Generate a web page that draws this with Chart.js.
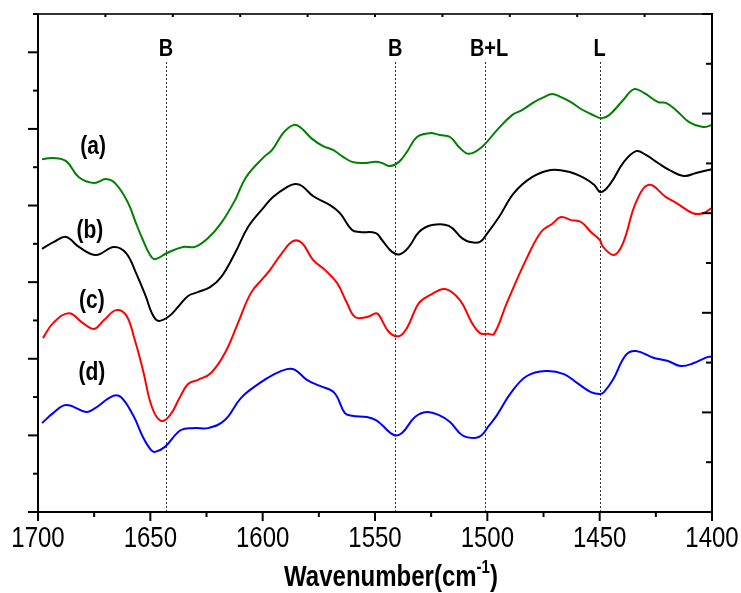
<!DOCTYPE html>
<html>
<head>
<meta charset="utf-8">
<script src="https://cdn.jsdelivr.net/npm/chart.js@4.4.1/dist/chart.umd.min.js"></script>
<style>
  html, body { margin: 0; padding: 0; background: #fff; }
  canvas { display: block; }
</style>
</head>
<body>
<canvas id="ftirChart" width="741" height="593"></canvas>
<script>
// spectrum (a) - green
const wavenumberA = [1698.2,1693.3,1687.5,1681.8,1675.1,1669.7,1665.3,1659.9,1656.4,1653.3,1650.1,1647.9,1642.6,1635.5,1630.1,1624.3,1618.5,1612.3,1607.4,1599.4,1595.8,1590.9,1586.5,1583.4,1578.0,1573.1,1568.7,1564.2,1560.2,1555.3,1549.6,1546.9,1543.3,1539.3,1535.8,1531.3,1525.5,1521.1,1516.6,1512.2,1508.2,1502.4,1495.7,1489.0,1484.6,1479.2,1474.8,1471.2,1467.2,1462.8,1458.3,1453.9,1449.4,1445.8,1439.6,1434.7,1430.3,1424.0,1420.5,1416.0,1410.2,1404.0,1400.0];
const absorbanceA = [9.21,9.24,9.16,8.74,8.59,8.69,8.56,8.07,7.54,7.10,6.71,6.60,6.76,6.92,6.92,7.15,7.54,8.14,8.74,9.27,9.45,9.89,10.10,10.05,9.74,9.55,9.45,9.27,9.14,9.11,9.14,9.11,9.03,9.14,9.40,9.79,9.89,9.84,9.79,9.50,9.35,9.53,9.97,10.36,10.49,10.70,10.83,10.91,10.83,10.70,10.52,10.39,10.28,10.36,10.75,11.04,10.94,10.70,10.68,10.49,10.18,10.05,10.10];

// spectrum (b) - black
const wavenumberB = [1698.2,1692.9,1687.5,1681.8,1674.2,1666.2,1660.8,1656.4,1651.9,1649.3,1646.6,1642.1,1637.7,1633.2,1628.8,1623.4,1618.5,1612.3,1606.5,1599.4,1595.4,1589.2,1585.6,1582.5,1577.6,1570.0,1565.6,1560.2,1556.7,1549.6,1546.9,1542.4,1538.9,1534.9,1530.4,1524.6,1517.1,1511.3,1507.7,1503.3,1500.2,1494.8,1488.1,1480.1,1471.7,1463.7,1457.0,1452.5,1449.4,1445.0,1439.6,1433.8,1429.4,1424.0,1419.1,1412.5,1407.1,1400.0];
const absorbanceB = [6.87,7.05,7.18,6.92,6.71,6.92,6.76,6.24,5.61,5.19,4.99,5.09,5.35,5.64,5.74,5.87,6.13,6.76,7.44,7.96,8.22,8.48,8.56,8.51,8.25,8.01,7.80,7.36,7.31,7.28,7.10,6.79,6.73,6.92,7.31,7.49,7.47,7.15,7.05,7.05,7.26,7.70,8.33,8.74,8.93,8.88,8.72,8.54,8.35,8.59,9.11,9.42,9.32,9.11,8.93,8.77,8.85,8.95];

// spectrum (c) - red
const wavenumberC = [1697.8,1693.3,1686.2,1680.0,1675.1,1670.6,1665.3,1660.8,1657.3,1653.3,1649.3,1645.3,1641.2,1636.8,1633.2,1628.8,1623.0,1616.8,1611.0,1605.2,1599.4,1596.7,1591.4,1586.5,1582.5,1577.6,1572.3,1566.9,1562.5,1558.9,1553.6,1549.6,1548.2,1543.8,1539.3,1535.8,1530.4,1525.5,1518.8,1512.2,1506.8,1503.3,1499.7,1497.0,1491.3,1482.8,1476.1,1471.2,1467.2,1462.8,1458.3,1453.9,1449.9,1448.5,1443.6,1439.6,1433.8,1428.0,1420.5,1416.0,1408.5,1404.0,1400.0];
const absorbanceC = [4.54,4.93,5.19,4.93,4.78,5.01,5.27,5.14,4.57,3.71,2.74,2.38,2.53,3.00,3.34,3.45,3.63,4.15,4.93,5.72,6.13,6.32,6.76,7.07,7.02,6.58,6.32,5.98,5.46,5.09,5.09,5.19,5.14,4.70,4.59,4.80,5.46,5.66,5.82,5.53,4.93,4.67,4.65,4.65,5.46,6.58,7.31,7.52,7.70,7.62,7.57,7.31,7.10,6.92,6.71,7.02,8.09,8.54,8.22,8.07,7.80,7.80,7.94];

// spectrum (d) - blue
const wavenumberD = [1698.2,1693.3,1687.5,1678.6,1675.1,1666.6,1663.1,1657.7,1653.3,1649.7,1647.9,1643.5,1636.4,1630.1,1624.3,1616.8,1609.6,1601.2,1595.4,1589.2,1585.6,1580.3,1574.5,1568.1,1563.4,1560.2,1553.6,1549.6,1546.9,1541.6,1538.0,1532.2,1526.9,1521.5,1516.6,1511.3,1505.5,1502.4,1499.7,1495.7,1489.5,1482.4,1473.9,1465.9,1460.1,1453.9,1449.9,1448.1,1444.1,1438.3,1433.8,1425.8,1419.6,1413.8,1408.0,1401.8,1400.0];
const absorbanceD = [2.32,2.58,2.79,2.61,2.69,3.03,3.00,2.53,1.96,1.62,1.57,1.70,2.14,2.19,2.19,2.40,2.98,3.37,3.58,3.73,3.71,3.45,3.29,3.11,2.58,2.51,2.48,2.40,2.27,2.01,2.06,2.48,2.61,2.53,2.35,2.01,1.93,2.01,2.22,2.53,3.11,3.55,3.68,3.60,3.37,3.13,3.08,3.13,3.45,4.10,4.20,4.02,3.94,3.81,3.89,4.05,4.05];

const seriesNames = ['(a)', '(b)', '(c)', '(d)'];
const seriesColors = ['#008000', '#000000', '#ff0000', '#0000ff'];
const seriesLabelX = [1675.5, 1676.9, 1676.0, 1676.0];
const seriesLabelY = [9.53, 7.33, 5.51, 3.63];

// assigned bands (dotted markers)
const bandNames = ['B', 'B', 'B+L', 'L'];
const bandPositions = [1643, 1541, 1501, 1450];

const xTickValues = [1700, 1650, 1600, 1550, 1500, 1450, 1400];
const xTickLabels = ['1700', '1650', '1600', '1550', '1500', '1450', '1400'];
const xAxisTitle = 'Wavenumber(cm';
const xAxisTitleSup = '-1';

const FONT_FAMILY = '"Liberation Sans", "DejaVu Sans", sans-serif';
const TEXT_STRETCH = 1.2;

function zip(xs, ys) {
    return xs.map((x, i) => ({ x: x, y: ys[i] }));
}

function stretchedText(ctx, text, x, y, font, align) {
    ctx.save();
    ctx.font = font;
    ctx.fillStyle = '#000';
    ctx.textAlign = align || 'center';
    ctx.textBaseline = 'middle';
    ctx.translate(x, y);
    ctx.scale(1, TEXT_STRETCH);
    ctx.fillText(text, 0, 0);
    ctx.restore();
}

function tick(ctx, x1, y1, x2, y2) {
    ctx.beginPath();
    ctx.moveTo(x1, y1);
    ctx.lineTo(x2, y2);
    ctx.stroke();
}

const spectrumFrame = {
    id: 'spectrumFrame',
    beforeDatasetsDraw(chart) {
        const { ctx, chartArea, scales } = chart;
        ctx.save();
        ctx.strokeStyle = '#333';
        ctx.lineWidth = 1;
        ctx.setLineDash([2, 2]);
        bandPositions.forEach((wn) => {
            const px = Math.round(scales.x.getPixelForValue(wn)) + 0.5;
            tick(ctx, px, chartArea.top + 48, px, chartArea.bottom);
        });
        ctx.restore();
    },
    afterDraw(chart) {
        const { ctx, chartArea, scales } = chart;
        const { left, right, top, bottom } = chartArea;

        ctx.save();
        ctx.lineWidth = 2;

        // frame
        ctx.strokeStyle = '#333';
        tick(ctx, left - 5, top, right + 1, top);
        ctx.strokeStyle = '#000';
        tick(ctx, left, top, left, bottom + 1);
        tick(ctx, left - 1, bottom, right + 1, bottom);
        tick(ctx, right, top - 1, right, bottom + 1);

        // bottom ticks, outward
        for (let v = 1400; v <= 1700; v += 25) {
            const px = scales.x.getPixelForValue(v);
            tick(ctx, px, bottom, px, bottom + (v % 50 === 0 ? 9 : 5));
        }
        // top ticks, inward
        for (let v = 0; v <= 10; v++) {
            const px = scales.x2.getPixelForValue(v);
            tick(ctx, px, top, px, top + 3);
        }
        // left ticks, outward
        for (let v = 0; v <= 13; v++) {
            const py = scales.y.getPixelForValue(v);
            tick(ctx, left - (v % 2 === 0 ? 10 : 5), py, left, py);
        }
        // right ticks, inward
        for (let v = 0; v <= 10; v++) {
            const py = scales.y2.getPixelForValue(v);
            tick(ctx, right - (v % 2 === 0 ? 10 : 6), py, right, py);
        }
        ctx.restore();

        // tick labels
        xTickValues.forEach((v, i) => {
            stretchedText(ctx, xTickLabels[i], scales.x.getPixelForValue(v), bottom + 27, '24px ' + FONT_FAMILY);
        });

        // axis title with superscript
        const mainFont = 'bold 24px ' + FONT_FAMILY;
        const supFont = 'bold 15px ' + FONT_FAMILY;
        ctx.save();
        ctx.font = mainFont;
        const w1 = ctx.measureText(xAxisTitle).width;
        const w3 = ctx.measureText(')').width;
        ctx.font = supFont;
        const w2 = ctx.measureText(xAxisTitleSup).width;
        ctx.restore();
        const total = w1 + w2 + w3;
        const startX = (left + right) / 2 + 16 - total / 2;
        const titleY = bottom + 66;
        stretchedText(ctx, xAxisTitle, startX, titleY, mainFont, 'left');
        stretchedText(ctx, xAxisTitleSup, startX + w1, titleY - 10, supFont, 'left');
        stretchedText(ctx, ')', startX + w1 + w2, titleY, mainFont, 'left');

        // band labels
        bandNames.forEach((name, i) => {
            stretchedText(ctx, name, scales.x.getPixelForValue(bandPositions[i]) + (name.length > 1 ? 4 : 0), top + 35, 'bold 20px ' + FONT_FAMILY);
        });

        // series labels
        seriesNames.forEach((name, i) => {
            stretchedText(ctx, name, scales.x.getPixelForValue(seriesLabelX[i]), scales.y.getPixelForValue(seriesLabelY[i]), 'bold 21px ' + FONT_FAMILY);
        });
    }
};

const spectra = [
    zip(wavenumberA, absorbanceA),
    zip(wavenumberB, absorbanceB),
    zip(wavenumberC, absorbanceC),
    zip(wavenumberD, absorbanceD)
];

new Chart(document.getElementById('ftirChart').getContext('2d'), {
    type: 'line',
    data: {
        datasets: spectra.map((points, i) => ({
            label: seriesNames[i],
            data: points,
            borderColor: seriesColors[i],
            borderWidth: 2,
            pointRadius: 0,
            fill: false,
            tension: 0.4,
            xAxisID: 'x',
            yAxisID: 'y'
        }))
    },
    options: {
        responsive: false,
        animation: false,
        devicePixelRatio: 1,
        layout: { padding: 0 },
        plugins: {
            legend: { display: false },
            tooltip: { enabled: false }
        },
        scales: {
            x: {
                type: 'linear', position: 'bottom', reverse: true, min: 1400, max: 1700,
                ticks: { display: false }, grid: { display: false }, border: { display: false },
                afterFit: (s) => { s.height = 81; }
            },
            x2: {
                type: 'linear', position: 'top', min: 0, max: 10, display: true,
                ticks: { display: false }, grid: { display: false }, border: { display: false },
                afterFit: (s) => { s.height = 14; }
            },
            y: {
                type: 'linear', position: 'left', min: 0, max: 13,
                ticks: { display: false }, grid: { display: false }, border: { display: false },
                afterFit: (s) => { s.width = 38; }
            },
            y2: {
                type: 'linear', position: 'right', min: 0, max: 10, display: true,
                ticks: { display: false }, grid: { display: false }, border: { display: false },
                afterFit: (s) => { s.width = 29; }
            }
        }
    },
    plugins: [spectrumFrame]
});
</script>
</body>
</html>
